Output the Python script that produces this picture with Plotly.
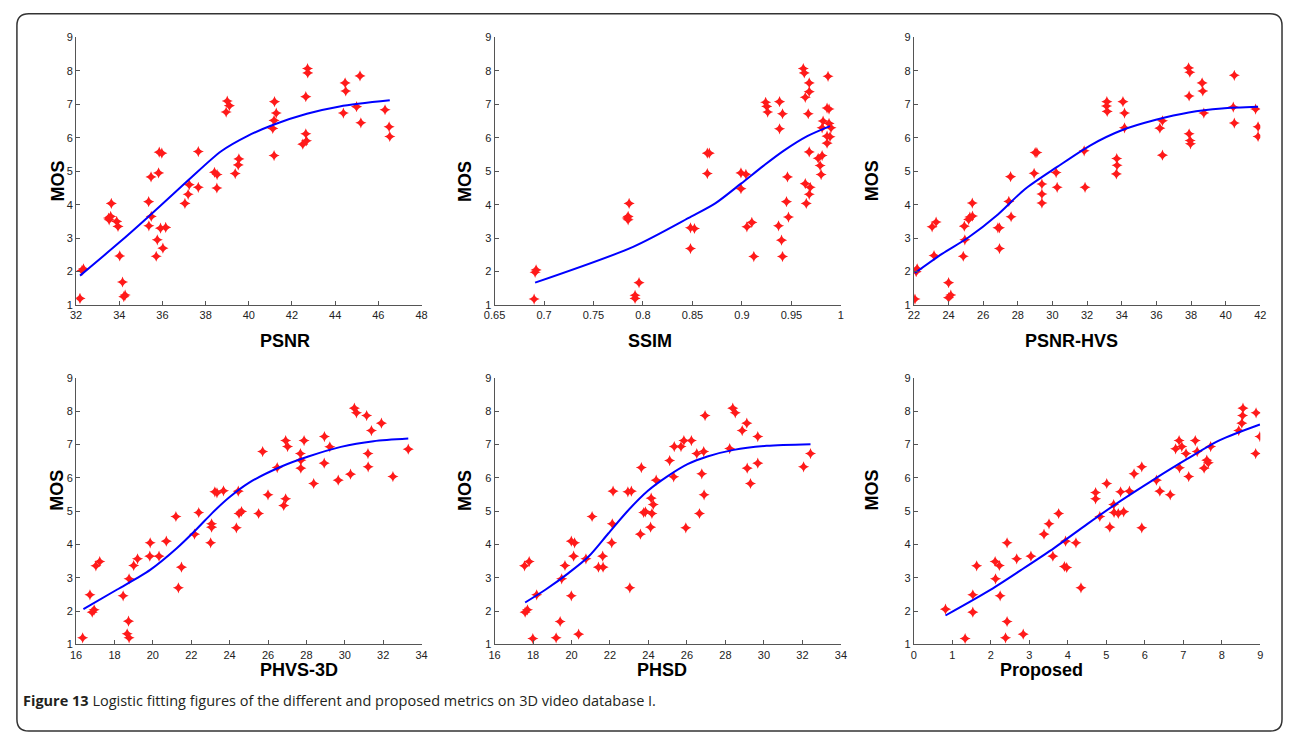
import plotly.graph_objects as go

W, H = 1289, 741

# ---- data ----
psnr_x = [32.18, 32.27, 32.34, 33.5, 33.53, 33.6, 33.63, 33.88, 33.94, 34.02, 34.15, 34.21, 34.27,
          35.36, 35.37, 35.47, 35.48, 35.71, 35.76, 35.82, 35.85, 35.97, 35.91, 36.02, 36.15,
          37.04, 37.19, 37.24, 37.66, 37.66, 38.41, 38.53, 38.52, 38.95, 39.0, 39.1, 39.37, 39.51, 39.54,
          41.11, 41.17, 41.19, 41.17, 41.27, 42.5, 42.64, 42.64, 42.67, 42.72, 42.73,
          44.38, 44.46, 44.49, 44.99, 45.15, 45.19, 46.31, 46.5, 46.53]
psnr_y = [1.2, 2.03, 2.08, 3.6, 3.55, 3.65, 4.04, 3.5, 3.35, 2.47, 1.69, 1.25, 1.3,
          4.09, 3.37, 4.83, 3.65, 2.46, 2.95, 4.95, 5.57, 5.54, 3.3, 2.7, 3.32,
          4.04, 4.31, 4.6, 5.59, 4.52, 4.97, 4.9, 4.5, 6.77, 7.1, 6.96, 4.93, 5.19, 5.37,
          6.28, 6.52, 7.08, 5.47, 6.74, 5.81, 7.23, 6.12, 5.91, 8.07, 7.94,
          6.74, 7.64, 7.4, 6.93, 7.85, 6.45, 6.84, 6.33, 6.04]
psnr_fit_x = [32.18, 33.98, 35.36, 37.19, 38.72, 39.95, 41.17, 42.69, 44.21, 46.53]
psnr_fit_y = [1.88, 2.86, 3.65, 4.73, 5.6, 6.06, 6.4, 6.72, 6.94, 7.12]

ssim_x = [0.690, 0.691, 0.692, 0.784, 0.785, 0.786, 0.785, 0.792, 0.792, 0.796,
          0.848, 0.852, 0.848, 0.865, 0.867, 0.865, 0.899, 0.904, 0.899, 0.905, 0.910, 0.912,
          0.924, 0.925, 0.926, 0.938, 0.938, 0.937, 0.940, 0.941, 0.941, 0.945, 0.946, 0.947,
          0.962, 0.963, 0.964, 0.964, 0.965, 0.967, 0.968, 0.968, 0.968, 0.968, 0.969,
          0.977, 0.979, 0.980, 0.981, 0.981, 0.982, 0.986, 0.986, 0.987, 0.986, 0.988, 0.988,
          0.990, 0.989]
ssim_y = [1.18, 1.98, 2.05, 3.6, 3.65, 4.04, 3.55, 1.29, 1.2, 1.67,
          3.31, 3.29, 2.69, 5.54, 5.54, 4.93, 4.95, 4.91, 4.48, 3.34, 3.47, 2.45,
          7.06, 6.94, 6.77, 7.08, 6.27, 3.37, 2.94, 2.45, 6.72, 4.09, 4.83, 3.63,
          8.07, 7.94, 7.21, 4.63, 4.04, 6.72, 7.64, 7.38, 4.31, 5.58, 4.52,
          5.39, 5.17, 4.9, 5.47, 6.3, 6.5, 6.05, 5.84, 7.84, 6.89, 6.86, 6.43,
          6.3, 6.03]
ssim_fit_x = [0.691, 0.79, 0.849, 0.873, 0.899, 0.922, 0.942, 0.966, 0.989]
ssim_fit_y = [1.67, 2.74, 3.65, 4.04, 4.63, 5.17, 5.61, 6.05, 6.35]

hvs_x = [22.06, 22.13, 22.19, 23.05, 23.28, 23.16, 24.0, 24.0, 24.13, 24.85, 24.94, 24.91,
         25.16, 25.38, 25.37, 25.23, 26.85, 26.94, 26.94, 27.48, 27.58, 27.61,
         28.94, 29.0, 29.1, 29.39, 29.39, 29.39, 30.21, 30.27, 31.83, 31.88,
         33.14, 33.12, 33.16, 33.71, 33.73, 33.69, 34.07, 34.16, 34.16,
         36.2, 36.35, 36.35, 37.86, 37.93, 37.89, 37.89, 37.95, 37.97,
         38.64, 38.68, 38.74, 40.5, 40.44, 40.5, 41.73, 41.87, 41.87]
hvs_y = [1.18, 2.0, 2.08, 3.34, 3.48, 2.48, 1.67, 1.22, 1.3, 2.46, 2.95, 3.36,
         3.56, 3.66, 4.05, 3.63, 3.31, 3.31, 2.69, 4.1, 4.84, 3.64,
         4.94, 5.56, 5.56, 4.62, 4.32, 4.05, 4.96, 4.52, 5.61, 4.52,
         7.08, 6.95, 6.79, 5.38, 5.18, 4.92, 7.08, 6.74, 6.3,
         6.29, 6.51, 5.48, 8.09, 7.96, 7.25, 6.12, 5.92, 5.82,
         7.64, 7.4, 6.74, 7.87, 6.92, 6.44, 6.86, 6.33, 6.04]
hvs_fit_x = [22.06, 23.62, 25.14, 26.85, 28.37, 30.27, 32.17, 34.07, 35.97, 37.87, 39.78, 41.87]
hvs_fit_y = [1.96, 2.53, 3.02, 3.71, 4.45, 5.13, 5.77, 6.24, 6.54, 6.76, 6.88, 6.93]

phvs_x = [16.34, 16.72, 16.84, 16.94, 17.03, 17.23, 18.45, 18.66, 18.73, 18.76, 18.76, 19.0,
          19.2, 19.86, 19.84, 20.32, 20.7, 21.2, 21.33, 21.49, 22.17, 22.39, 23.01, 23.06,
          23.06, 23.23, 23.34, 23.68, 24.35, 24.45, 24.49, 24.62, 25.51, 25.72, 26.0, 26.48,
          26.82, 26.92, 26.92, 27.02, 27.69, 27.71, 27.71, 27.88, 28.38, 28.94, 28.93, 29.22,
          29.66, 30.3, 30.5, 30.61, 31.14, 31.21, 31.22, 31.39, 31.91, 32.51, 33.31]
phvs_y = [1.2, 2.49, 1.97, 2.04, 3.36, 3.49, 2.46, 1.32, 1.7, 1.2, 2.97, 3.37,
          3.57, 4.05, 3.65, 3.65, 4.1, 4.84, 2.7, 3.32, 4.31, 4.96, 4.05, 4.62,
          4.52, 5.58, 5.55, 5.61, 4.5, 5.6, 4.93, 4.99, 4.93, 6.79, 5.49, 6.31,
          5.17, 5.37, 7.12, 6.94, 6.73, 6.53, 6.29, 7.12, 5.83, 7.24, 6.44, 6.93,
          5.93, 6.11, 8.09, 7.95, 7.87, 6.73, 6.33, 7.42, 7.64, 6.04, 6.86]
phvs_fit_x = [16.38, 18.14, 19.86, 21.23, 22.26, 23.1, 23.97, 25.0, 26.7, 28.1, 29.8, 31.5, 33.31]
phvs_fit_y = [2.06, 2.65, 3.24, 3.88, 4.45, 4.95, 5.41, 5.85, 6.34, 6.64, 6.93, 7.1, 7.18]

phsd_x = [17.56, 17.8, 17.59, 17.71, 17.99, 18.19, 19.2, 19.41, 19.49, 19.66, 19.99, 19.99,
          20.16, 20.11, 20.37, 20.75, 21.07, 21.4, 21.64, 21.62, 22.09, 22.12, 22.16, 22.93,
          23.03, 23.11, 23.58, 23.63, 23.75, 23.84, 24.11, 24.18, 24.14, 24.25, 24.4, 25.1,
          25.31, 25.34, 25.69, 25.84, 25.94, 26.23, 26.51, 26.65, 26.77, 26.87, 26.89, 26.94,
          28.22, 28.38, 28.51, 28.87, 29.11, 29.13, 29.3, 29.68, 29.68, 32.06, 32.42]
phsd_y = [3.36, 3.49, 1.97, 2.04, 1.18, 2.49, 1.2, 1.69, 2.97, 3.37, 2.46, 4.1,
          4.05, 3.65, 1.31, 3.57, 4.84, 3.32, 3.32, 3.65, 4.05, 4.62, 5.6, 5.58,
          2.7, 5.6, 4.31, 6.31, 4.96, 4.98, 4.52, 4.93, 5.39, 5.2, 5.93, 6.52,
          6.03, 6.94, 6.94, 7.12, 4.5, 7.12, 6.73, 4.93, 6.12, 6.79, 5.49, 7.87,
          6.88, 8.09, 7.95, 7.42, 7.64, 6.29, 5.83, 7.24, 6.44, 6.33, 6.73]
phsd_fit_x = [17.59, 18.66, 19.86, 20.89, 21.91, 22.94, 23.97, 25.0, 26.03, 27.06, 28.43, 30.14, 32.42]
phsd_fit_y = [2.26, 2.65, 3.15, 3.64, 4.33, 5.02, 5.61, 6.05, 6.41, 6.64, 6.84, 6.96, 7.01]

prop_x = [0.82, 1.33, 1.53, 1.53, 1.63, 2.11, 2.12, 2.22, 2.24, 2.38, 2.42, 2.42, 2.67, 2.84,
          3.04, 3.38, 3.51, 3.61, 3.76, 3.91, 3.97, 3.94, 4.21, 4.34, 4.72, 4.72, 4.83, 5.01,
          5.09, 5.19, 5.2, 5.31, 5.37, 5.45, 5.6, 5.72, 5.92, 5.92, 6.3, 6.39, 6.66, 6.8,
          6.89, 6.9, 6.96, 7.07, 7.14, 7.31, 7.36, 7.54, 7.61, 7.65, 7.71, 8.44, 8.52, 8.54,
          8.55, 8.88, 8.89, 8.99]
prop_y = [2.06, 1.18, 2.49, 1.97, 3.36, 3.49, 2.97, 3.37, 2.46, 1.2, 1.69, 4.05, 3.57, 1.31,
          3.65, 4.31, 4.62, 3.65, 4.93, 3.34, 3.31, 4.1, 4.05, 2.7, 5.37, 5.56, 4.84, 5.83,
          4.52, 5.2, 4.96, 4.93, 5.58, 4.98, 5.6, 6.12, 4.5, 6.33, 5.93, 5.6, 5.49, 6.87,
          7.12, 6.3, 6.94, 6.73, 6.04, 7.12, 6.79, 6.29, 6.53, 6.45, 6.94, 7.42, 7.64, 7.87,
          8.09, 6.73, 7.95, 7.24]
prop_fit_x = [0.82, 1.93, 2.79, 3.65, 4.51, 5.37, 6.23, 7.09, 7.95, 8.99]
prop_fit_y = [1.87, 2.6, 3.24, 3.9, 4.62, 5.31, 5.95, 6.56, 7.13, 7.6]

y_ticks = [1, 2, 3, 4, 5, 6, 7, 8, 9]
panels = [
    ("PSNR", psnr_x, psnr_y, psnr_fit_x, psnr_fit_y, [32, 34, 36, 38, 40, 42, 44, 46, 48], None),
    ("SSIM", ssim_x, ssim_y, ssim_fit_x, ssim_fit_y, [0.65, 0.7, 0.75, 0.8, 0.85, 0.9, 0.95, 1.0],
     ["0.65", "0.7", "0.75", "0.8", "0.85", "0.9", "0.95", "1"]),
    ("PSNR-HVS", hvs_x, hvs_y, hvs_fit_x, hvs_fit_y, [22, 24, 26, 28, 30, 32, 34, 36, 38, 40, 42], None),
    ("PHVS-3D", phvs_x, phvs_y, phvs_fit_x, phvs_fit_y, list(range(16, 35, 2)), None),
    ("PHSD", phsd_x, phsd_y, phsd_fit_x, phsd_fit_y, list(range(16, 35, 2)), None),
    ("Proposed", prop_x, prop_y, prop_fit_x, prop_fit_y, list(range(0, 10)), None),
]

# ---- layout in pixels ----
col_px = [(66, 416), (490, 841), (915, 1266)]
row_px = [(32, 304), (378, 649)]
title_px = [(250, 341), (648, 341), (1124, 341), (250, 687), (660, 687), (1088, 687)]
mos_px = [(35, 155), (460, 155), (885, 155), (35, 515), (460, 515), (885, 515)]


def px(x):
    return x / W


def py(y):
    return 1 - y / H


fig = go.Figure()
axis_style = dict(showline=True, linecolor="#555", linewidth=1, ticks="inside", ticklen=4,
                  tickcolor="#555", showgrid=False, zeroline=False,
                  tickfont=dict(family="Arial, Liberation Sans", size=11, color="#222"))

for i, (name, xs, ys, fx, fy, xt, xtt) in enumerate(panels):
    r, c = divmod(i, 3)
    n = "" if i == 0 else str(i + 1)
    fig.add_trace(go.Scatter(x=xs, y=ys, mode="markers", xaxis="x" + n, yaxis="y" + n,
                             marker=dict(symbol="star-diamond", size=8, color="#ff1a1a",
                                         line=dict(width=0)),
                             showlegend=False))
    fig.add_trace(go.Scatter(x=fx, y=fy, mode="lines", xaxis="x" + n, yaxis="y" + n,
                             line=dict(color="#0000ff", width=2, shape="spline", smoothing=0.8),
                             showlegend=False))
    x0, x1 = col_px[c]
    y0, y1 = row_px[r]
    fig.layout["xaxis" + n] = dict(domain=[px(x0), px(x1)], anchor="y" + n,
                                   range=[xt[0], xt[-1]], tickvals=xt,
                                   ticktext=xtt if xtt else [str(v) for v in xt], **axis_style)
    fig.layout["yaxis" + n] = dict(domain=[py(y1), py(y0)], anchor="x" + n,
                                   range=[1, 9], tickvals=y_ticks, **axis_style)
    tx, ty = title_px[i]
    fig.add_annotation(x=px(tx), y=py(ty), xref="paper", yref="paper", text="<b>%s</b>" % name,
                       showarrow=False, font=dict(family="Arial, Liberation Sans", size=18, color="black"))
    mx, my = mos_px[i]
    fig.add_annotation(x=px(mx), y=py(my), xref="paper", yref="paper", text="<b>MOS</b>",
                       textangle=-90, showarrow=False,
                       font=dict(family="Arial, Liberation Sans", size=18, color="black"))

# caption
fig.add_annotation(x=px(10), y=py(718), xref="paper", yref="paper", xanchor="left",
                   text="<b>Figure 13</b> Logistic fitting figures of the different and proposed metrics on 3D video database I.",
                   showarrow=False, font=dict(family="Open Sans", size=14.5, color="#231f20"))

# rounded frame around the figure
bx0, by0, bx1, by1, rad = 6, 8, 1288, 737, 12
path = ("M {a},{b} L {c},{b} Q {d},{b} {d},{e} L {d},{f} Q {d},{g} {c},{g} "
        "L {a},{g} Q {h},{g} {h},{f} L {h},{e} Q {h},{b} {a},{b} Z").format(
    a=px(bx0 + rad), b=py(by0), c=px(bx1 - rad), d=px(bx1), e=py(by0 + rad),
    f=py(by1 - rad), g=py(by1), h=px(bx0))
fig.add_shape(type="path", path=path, xref="paper", yref="paper",
              line=dict(color="#333", width=1.5))

fig.update_layout(width=W, height=H, margin=dict(l=0, r=0, t=0, b=0),
                  plot_bgcolor="white", paper_bgcolor="white")

# drop the default page margin so the figure starts at the window corner
css_fix = """
var st = document.createElement('style');
st.textContent = 'html,body{margin:0;padding:0;overflow:hidden;}';
document.head.appendChild(st);
"""
fig.write_html("out.html", config={"displayModeBar": False}, post_script=css_fix)
